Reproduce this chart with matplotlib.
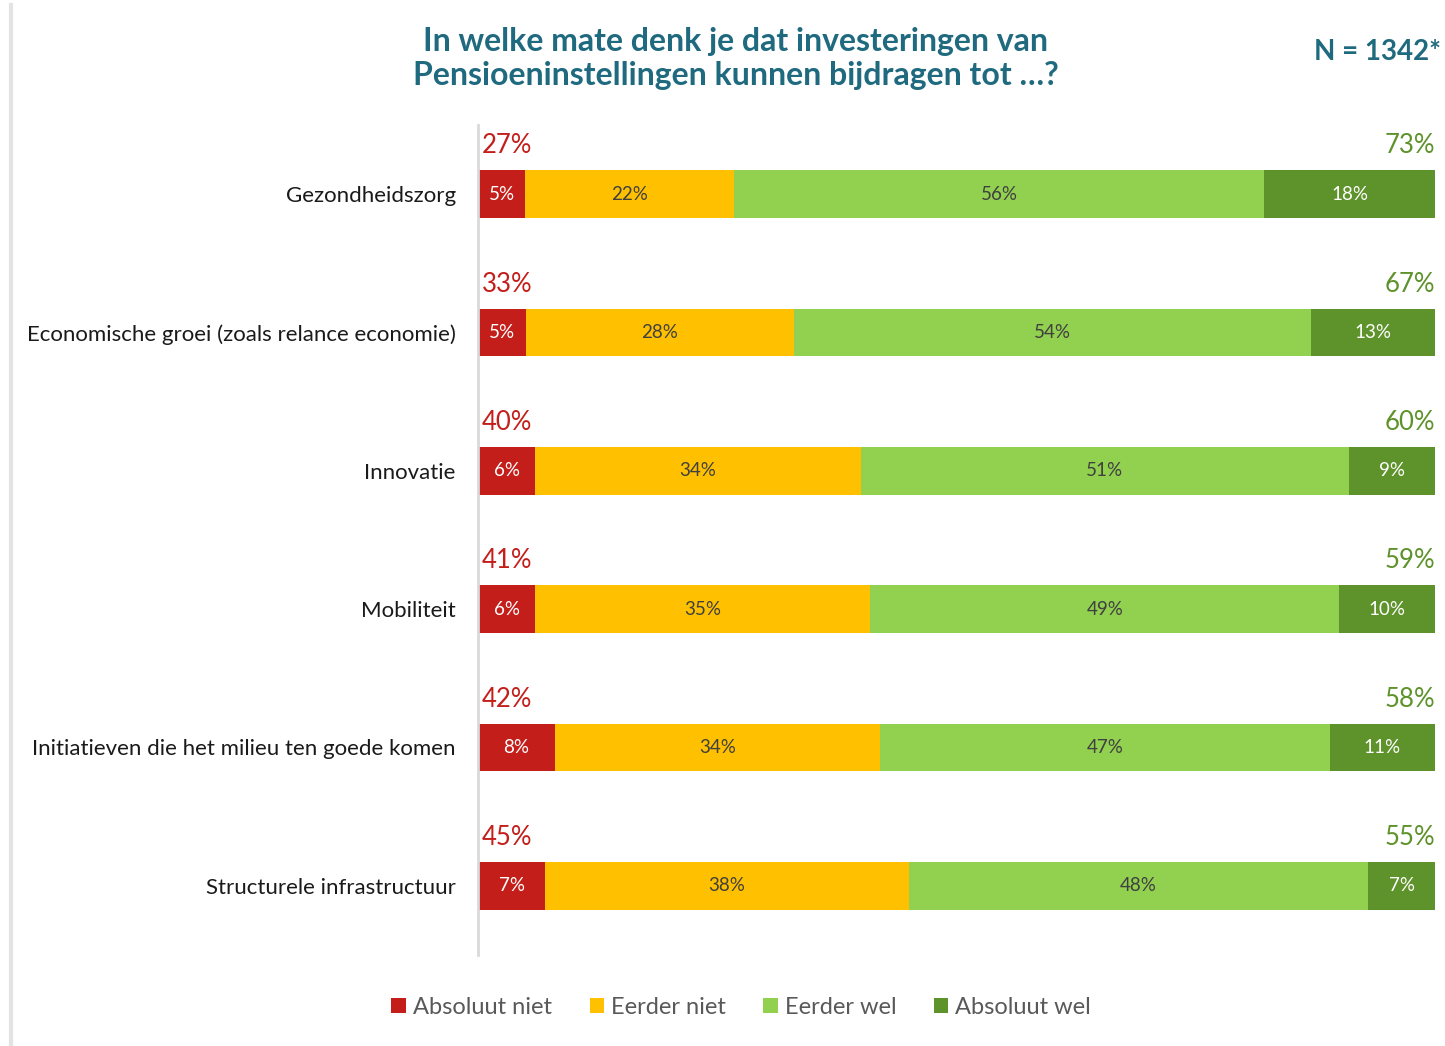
import matplotlib
matplotlib.use("Agg")
import matplotlib.pyplot as plt
from matplotlib.lines import Line2D
from matplotlib.patches import Patch

categories = [
    "Gezondheidszorg",
    "Economische groei (zoals relance economie)",
    "Innovatie",
    "Mobiliteit",
    "Initiatieven die het milieu ten goede komen",
    "Structurele infrastructuur",
]
series_names = ["Absoluut niet", "Eerder niet", "Eerder wel", "Absoluut wel"]
absoluut_niet = [5, 5, 6, 6, 8, 7]
eerder_niet = [22, 28, 34, 35, 34, 38]
eerder_wel = [56, 54, 51, 49, 47, 48]
absoluut_wel = [18, 13, 9, 10, 11, 7]
total_neg = [27, 33, 40, 41, 42, 45]
total_pos = [73, 67, 60, 59, 58, 55]

colors = ["#C41E1A", "#FFC000", "#92D050", "#5E922A"]
label_colors = ["white", "#404040", "#404040", "white"]
teal = "#1F6A7F"

plt.rcParams['font.family'] = ['Lato', 'DejaVu Sans']

fig = plt.figure(figsize=(14.45, 10.46), dpi=100)
ax = fig.add_axes([0.3308, 0.087, 0.6623, 0.7935])

series = [absoluut_niet, eerder_niet, eerder_wel, absoluut_wel]
rows = range(len(categories))
for i in rows:
    row_sum = sum(s[i] for s in series)
    left = 0.0
    for k, s in enumerate(series):
        w = s[i] / row_sum * 100
        ax.barh(i, w, left=left, height=0.345, color=colors[k], edgecolor="none")
        ax.text(left + w / 2, i, f"{s[i]}%", ha="center", va="center",
                fontsize=13.5, color=label_colors[k])
        left += w
    ax.text(0.4, i - 0.35, f"{total_neg[i]}%", ha="left", va="center",
            fontsize=18.5, color="#C41E1A")
    ax.text(100, i - 0.35, f"{total_pos[i]}%", ha="right", va="center",
            fontsize=18.5, color="#5E922A")

ax.set_xlim(0, 100)
ax.set_ylim(5.5, -0.5)
ax.set_yticks(list(rows))
ax.set_yticklabels(categories, fontsize=16, color="#1a1a1a")
ax.tick_params(axis="y", length=0, pad=16)
ax.set_xticks([])
for side in ["top", "right", "bottom"]:
    ax.spines[side].set_visible(False)
ax.spines["left"].set_color("#D9D9D9")
ax.spines["left"].set_linewidth(2)

fig.text(0.509, 0.944, "In welke mate denk je dat investeringen van\nPensioeninstellingen kunnen bijdragen tot \u2026?",
         ha="center", va="center", fontsize=23, fontweight="bold", color=teal,
         linespacing=1.2)
fig.text(0.997, 0.95, "N = 1342*", ha="right", va="center", fontsize=20,
         fontweight="bold", color=teal)

# shadow line on the left edge
fig.add_artist(Line2D([0.0075, 0.0075], [0.0, 0.995], transform=fig.transFigure,
                      color="#E3E3E3", linewidth=3))

handles = [Patch(facecolor=c, edgecolor="none") for c in colors]
fig.legend(handles, series_names, loc="center", bbox_to_anchor=(0.513, 0.037),
           ncol=4, frameon=False, fontsize=17, handlelength=0.6, handleheight=0.6,
           handletextpad=0.3, columnspacing=1.6, labelcolor="#595959")

fig.savefig("out.png", dpi=100)
